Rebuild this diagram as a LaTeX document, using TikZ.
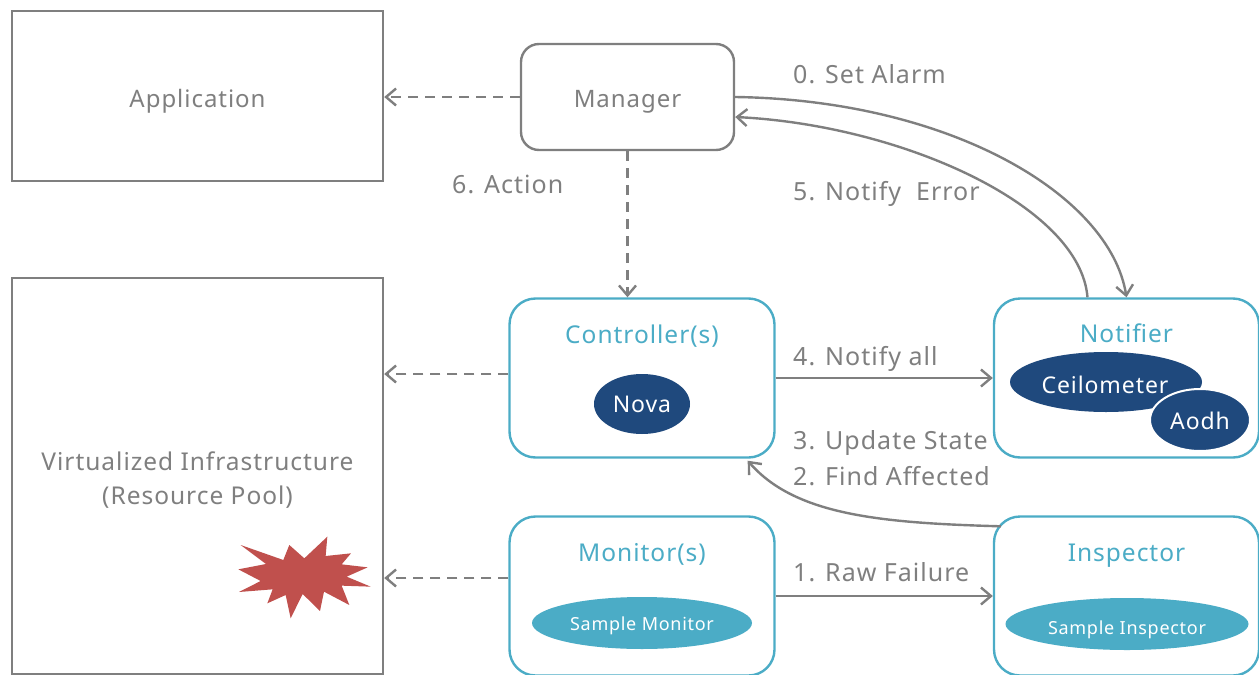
\documentclass[tikz,border=0pt]{standalone}
\usepackage{fontspec}
\setmainfont{Noto Sans}[LetterSpace=4]
\usetikzlibrary{arrows.meta,calc,shapes.geometric}
\definecolor{lgray}{HTML}{7F7F7F}
\definecolor{lteal}{HTML}{4BACC6}
\definecolor{lnavy}{HTML}{1F497D}
\definecolor{lred}{HTML}{C0504D}
\tikzset{
  sq/.style={draw=lgray,line width=2.4pt,fill=white,text=lgray,font=\fontsize{24}{34}\selectfont,align=center,inner sep=0pt},
  mgr/.style={sq,rounded corners=18pt},
  tealbox/.style={draw=lteal,line width=2.4pt,fill=white,rounded corners=26pt,minimum width=265pt,minimum height=159pt},
  title/.style={text=lteal,font=\fontsize{24.5}{29}\selectfont,inner sep=0pt,anchor=base},
  lab/.style={text=lgray,font=\fontsize{25}{30}\selectfont,inner sep=0pt,anchor=base west},
  navy/.style={ellipse,fill=lnavy,text=white,font=\fontsize{23}{28}\selectfont,inner sep=0pt},
  tealell/.style={ellipse,fill=lteal,text=white,font=\fontsize{18}{22}\selectfont,inner sep=0pt},
  conn/.style={draw=lgray,line width=2.4pt,-{Straight Barb[length=10pt,width=17pt,line width=2.4pt]}},
  dconn/.style={conn,dash pattern=on 10pt off 7pt},
}
\begin{document}
\begin{tikzpicture}[x=1pt,y=-1pt]
\useasboundingbox (0,0) rectangle (1259,675);
\node[sq,minimum width=371pt,minimum height=170pt] (app) at (197.5,96) {\raisebox{-11pt}[0pt][0pt]{Application}};
\node[mgr,minimum width=213pt,minimum height=106pt] (manager) at (627.5,97) {\raisebox{-10pt}[0pt][0pt]{Manager}};
\node[sq,font=\fontsize{24.5}{34}\selectfont,minimum width=371pt,minimum height=396pt] (virt) at (197.5,476) {\raisebox{-28pt}[0pt][0pt]{\shortstack{Virtualized Infrastructure\\[12pt](Resource Pool)}}};
\node[tealbox] (ctrl) at (642,378) {};
\node[tealbox] (notif) at (1126.5,378) {};
\node[tealbox] (mon) at (642,596) {};
\node[tealbox] (insp) at (1126.5,596) {};
\node[title] (ctrlt) at (642,343) {Controller(s)};
\node[title] (notift) at (1126.5,342) {Notifier};
\node[title] (mont) at (642,561) {Monitor(s)};
\node[title] (inspt) at (1126.5,561) {Inspector};
\node[navy,minimum width=96pt,minimum height=60pt] (nova) at (642,404) {Nova};
\node[navy,minimum width=192pt,minimum height=60pt] (ceil) at (1106,382) {};
\node[navy,draw=white,line width=2pt,minimum width=100pt,minimum height=62pt] (aodh) at (1200,420) {\raisebox{-9pt}[0pt][0pt]{Aodh}};
\node[text=white,font=\fontsize{23}{28}\selectfont,inner sep=0pt] (ceilt) at (1105,385) {Ceilometer};
\node[tealell,minimum width=220pt,minimum height=52pt] (smon) at (642,623) {\raisebox{-7pt}[0pt][0pt]{Sample Monitor}};
\node[tealell,minimum width=243pt,minimum height=52pt] (sinsp) at (1127,624) {\raisebox{-10pt}[0pt][0pt]{Sample Inspector}};
\fill[lred,shift={(220,520)},x=0.3333pt,y=-0.3333pt]
 (62,75)--(190,120)--(208,75)--(253,115)--(322,50)--(317,108)--(393,100)--(365,133)--(443,142)--(380,170)--(452,200)--(365,197)--(388,255)--(312,215)--(300,273)--(248,222)--(212,295)--(197,225)--(142,250)--(158,208)--(57,216)--(122,183)--(55,148)--(138,132)--cycle;
\draw[dconn] (manager.west) -- (app.east |- manager.west);
\draw[dconn] (manager.south) -- (manager.south |- ctrl.north);
\draw[dconn] ($(ctrl.west)+(0,-4)$) -- ($(virt.east |- ctrl.west)+(0,-4)$);
\draw[dconn] ($(mon.west)+(0,-18)$) -- ($(virt.east |- mon.west)+(0,-18)$);
\draw[conn] (ctrl.east) -- (notif.west);
\draw[conn] (mon.east) -- (insp.west);
\draw[conn] (manager.east) .. controls (950,100) and (1110,195) .. (notif.north);
\draw[conn] ($(notif.north)+(-39,0)$) .. controls (1080,205) and (900,125) .. ($(manager.east)+(0,20)$);
\draw[conn] ($(insp.north west)+(8,11)$) .. controls (880,523) and (795,515) .. ($(ctrl.south east)+(-28,2)$);
\node[lab] (l0) at (793,83) {0. Set Alarm};
\node[lab] (l5) at (793,200) {5. Notify\ \ Error};
\node[lab] (l6) at (452,193) {6. Action};
\node[lab] (l4) at (793,365) {4. Notify all};
\node[lab] (l3) at (793,449) {3. Update State};
\node[lab] (l2) at (793,485) {2. Find Affected};
\node[lab] (l1) at (793,581) {1. Raw Failure};
\end{tikzpicture}
\end{document}
